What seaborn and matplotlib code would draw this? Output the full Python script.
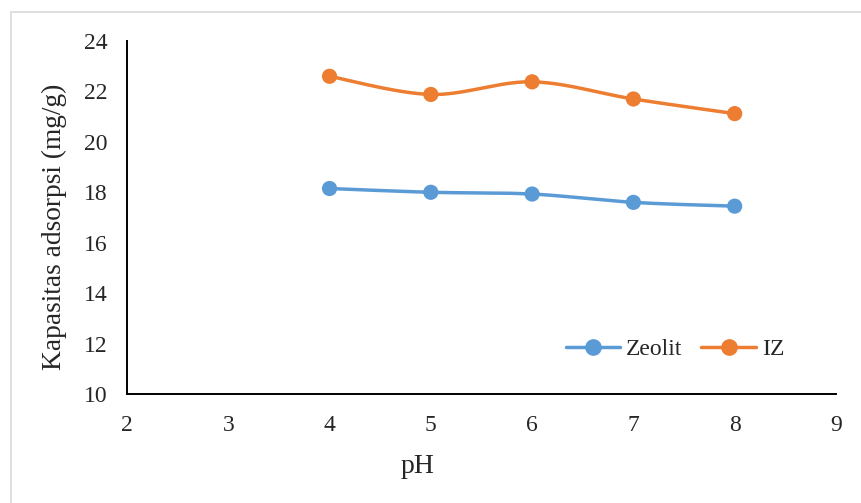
import numpy as np
import pandas as pd
import matplotlib
matplotlib.use("Agg")
import matplotlib.pyplot as plt
from matplotlib.lines import Line2D
import seaborn as sns

# Adsorption capacity vs pH
ph = [4, 5, 6, 7, 8]
zeolit = [18.15, 18.00, 17.93, 17.60, 17.45]
iz = [22.60, 21.88, 22.38, 21.70, 21.12]
series_names = ["Zeolit", "IZ"]
colors = {"Zeolit": "#5B9BD5", "IZ": "#ED7D31"}

x_ticks = [2, 3, 4, 5, 6, 7, 8, 9]
y_ticks = [10, 12, 14, 16, 18, 20, 22, 24]


def smooth(xs, ys, n=40):
    """Bezier smoothing through every point (Catmull-Rom control points)."""
    p = np.column_stack([xs, ys]).astype(float)
    p = np.vstack([p[0], p, p[-1]])
    out = []
    for i in range(1, len(p) - 2):
        p0, p1, p2, p3 = p[i - 1], p[i], p[i + 1], p[i + 2]
        c1 = p1 + (p2 - p0) / 6.0
        c2 = p2 - (p3 - p1) / 6.0
        t = np.linspace(0, 1, n, endpoint=(i == len(p) - 3))[:, None]
        seg = ((1 - t) ** 3) * p1 + 3 * ((1 - t) ** 2) * t * c1 + 3 * (1 - t) * t ** 2 * c2 + t ** 3 * p2
        out.append(seg)
    out = np.vstack(out)
    return out[:, 0], out[:, 1]


points = pd.DataFrame({
    "pH": ph * 2,
    "q": zeolit + iz,
    "series": ["Zeolit"] * len(ph) + ["IZ"] * len(ph),
})

curves = []
for name, vals in zip(series_names, [zeolit, iz]):
    sx, sy = smooth(ph, vals)
    curves.append(pd.DataFrame({"pH": sx, "q": sy, "series": name}))
curves = pd.concat(curves, ignore_index=True)

sns.set_style("white")
plt.rcParams["font.family"] = ["Liberation Serif", "DejaVu Serif"]

fig = plt.figure(figsize=(8.62, 5.03), dpi=100)
ax = fig.add_axes([0.1473, 0.2167, 0.8225, 0.7018])

sns.lineplot(data=curves, x="pH", y="q", hue="series", palette=colors,
             linewidth=2.5, sort=False, estimator=None, legend=False, ax=ax)
sns.scatterplot(data=points, x="pH", y="q", hue="series", palette=colors,
                s=120, edgecolor="none", legend=False, ax=ax, zorder=3)

ax.set_xlim(2, 9)
ax.set_ylim(10, 24)
ax.set_xticks(x_ticks)
ax.set_yticks(y_ticks)
ax.tick_params(axis="both", direction="out", length=5, width=1.3, color="black",
               labelsize=17)
ax.tick_params(axis="x", pad=10)
ax.tick_params(axis="y", pad=9)
for side in ["top", "right"]:
    ax.spines[side].set_visible(False)
for side in ["left", "bottom"]:
    ax.spines[side].set_color("black")
    ax.spines[side].set_linewidth(1.4)

ax.set_xlabel("pH", fontsize=20)
ax.set_ylabel("Kapasitas adsorpsi (mg/g)", fontsize=19.7)
ax.xaxis.set_label_coords(0.41, -0.17)
ax.yaxis.set_label_coords(-0.085, 0.475)

handles = [Line2D([0], [0], color=colors[n], lw=2.5, marker="o", markersize=11)
           for n in series_names]
ax.legend(handles, series_names, loc="center", bbox_to_anchor=(0.773, 0.127),
          ncol=2, frameon=False, fontsize=17, handlelength=2.3,
          handletextpad=0.25, columnspacing=0.8, borderpad=0.2)

# chart-area outline
fig.add_artist(plt.Rectangle((0.0122, -0.05), 1.1, 0.05 + 0.977, transform=fig.transFigure,
                             fill=False, edgecolor="#D9D9D9", linewidth=1.2))

fig.savefig("out.png", dpi=100)
